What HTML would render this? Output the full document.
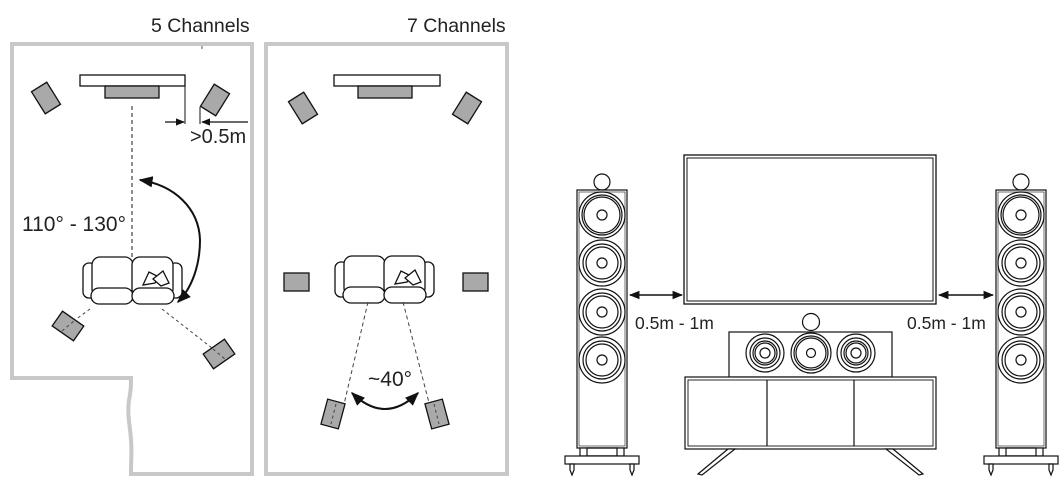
<!DOCTYPE html>
<html><head><meta charset="utf-8"><style>
html,body{margin:0;padding:0;background:#fff;}
svg{display:block;}
text{font-family:"Liberation Sans",sans-serif;fill:#222;}
</style></head><body>
<svg width="1062" height="492" viewBox="0 0 1062 492" xmlns="http://www.w3.org/2000/svg">
<defs>
  <marker id="ah" viewBox="0 0 10 10" refX="9" refY="5" markerWidth="7" markerHeight="7" orient="auto-start-reverse">
    <path d="M0,1 L10,5 L0,9 Z" fill="#111"/>
  </marker>
  <g id="sofa" fill="#fff" stroke="#111" stroke-width="1.3">
    <rect x="0" y="6" width="13" height="35" rx="6"/>
    <rect x="86" y="6" width="13" height="35" rx="6"/>
    <rect x="9" y="0" width="41" height="40" rx="8"/>
    <rect x="49" y="0" width="41" height="40" rx="8"/>
    <rect x="8" y="31" width="42" height="16" rx="8"/>
    <rect x="49" y="31" width="42" height="16" rx="8"/>
    <path d="M60,28 L66,15 L76,20 L72,26 Z"/>
    <path d="M70,22 L80,14 L86,26 L78,29 Z"/>
  </g>
  <g id="spk" fill="#a9a9a9" stroke="#111" stroke-width="1.3">
    <rect x="-9" y="-13" width="18" height="26"/>
  </g>
  <g id="tower" fill="#fff" stroke="#111" stroke-width="1.2">
    <circle cx="25" cy="-8" r="8"/>
    <rect x="0" y="0" width="50" height="258"/>
    <rect x="2" y="2" width="46" height="254" fill="none" stroke-width="0.6"/>
    <g fill="none">
      <circle cx="25" cy="25" r="23"/><circle cx="25" cy="25" r="20"/><circle cx="25" cy="25" r="18"/><circle cx="25" cy="25" r="5"/>
      <circle cx="25" cy="73" r="23"/><circle cx="25" cy="73" r="19"/><circle cx="25" cy="73" r="16"/><circle cx="25" cy="73" r="5"/>
      <circle cx="25" cy="122" r="23"/><circle cx="25" cy="122" r="19"/><circle cx="25" cy="122" r="16"/><circle cx="25" cy="122" r="5"/>
      <circle cx="25" cy="170" r="23"/><circle cx="25" cy="170" r="19"/><circle cx="25" cy="170" r="16"/><circle cx="25" cy="170" r="5"/>
    </g>
    <rect x="3" y="258" width="44" height="8"/>
    <rect x="10" y="258" width="30" height="8" fill="none"/>
    <rect x="-12" y="266" width="74" height="8"/>
    <path d="M-7,274 L-7,280 L-5,285 L-3,280 L-3,274 Z"/>
    <path d="M53,274 L53,280 L55,285 L57,280 L57,274 Z"/>
  </g>
</defs>

<!-- Rooms -->
<path d="M12,44 L252,44 L252,474 L131,474 C131,460 132,450 131,440 C130,425 127,415 129,400 C131,390 131,385 131,378 L12,378 Z" fill="none" stroke="#c8c8c8" stroke-width="4"/>
<line x1="202" y1="46" x2="202" y2="49" stroke="#555" stroke-width="1"/>
<rect x="266" y="44" width="241" height="430" fill="none" stroke="#c8c8c8" stroke-width="4"/>
<text x="151" y="32" font-size="19.5">5 Channels</text>
<text x="407" y="32" font-size="19.5">7 Channels</text>

<!-- 5ch -->
<rect x="80" y="75" width="105" height="11" fill="#fff" stroke="#111" stroke-width="1.3"/>
<rect x="105" y="86" width="54" height="12" fill="#a9a9a9" stroke="#111" stroke-width="1.3"/>
<use href="#spk" transform="translate(46,98) rotate(-32)"/>
<use href="#spk" transform="translate(215,100) rotate(32)"/>
<line x1="185" y1="86" x2="185" y2="124" stroke="#111" stroke-width="1"/>
<line x1="200" y1="107" x2="200" y2="124" stroke="#111" stroke-width="1"/>
<line x1="165" y1="122" x2="184" y2="122" stroke="#111" stroke-width="1.3" marker-end="url(#ah)"/>
<line x1="248" y1="122" x2="202" y2="122" stroke="#111" stroke-width="1.3" marker-end="url(#ah)"/>
<text x="190" y="143" font-size="20">&gt;0.5m</text>
<line x1="132" y1="106" x2="132" y2="258" stroke="#444" stroke-width="1.2" stroke-dasharray="4,3"/>
<path d="M200,240 C199,208 174,185 140,180" fill="none" stroke="#111" stroke-width="2" marker-end="url(#ah)"/>
<path d="M200,240 C200,265 192,288 178,302" fill="none" stroke="#111" stroke-width="2" marker-end="url(#ah)"/>
<text x="22" y="231" font-size="21">110° - 130°</text>
<use href="#sofa" transform="translate(83,257)"/>
<line x1="90" y1="309" x2="75" y2="320" stroke="#444" stroke-width="1" stroke-dasharray="3,3"/>
<line x1="162" y1="309" x2="212" y2="348" stroke="#444" stroke-width="1" stroke-dasharray="3,3"/>
<use href="#spk" transform="translate(68,326) rotate(-55)"/>
<use href="#spk" transform="translate(219,354) rotate(55)"/>
<line x1="62" y1="331" x2="74" y2="321" stroke="#444" stroke-width="1" stroke-dasharray="3,3"/>
<line x1="213" y1="349" x2="225" y2="359" stroke="#444" stroke-width="1" stroke-dasharray="3,3"/>

<!-- 7ch -->
<rect x="334" y="75" width="106" height="11" fill="#fff" stroke="#111" stroke-width="1.3"/>
<rect x="358" y="86" width="54" height="12" fill="#a9a9a9" stroke="#111" stroke-width="1.3"/>
<use href="#spk" transform="translate(303,108) rotate(-32)"/>
<use href="#spk" transform="translate(467,108) rotate(32)"/>
<rect x="284" y="273" width="25" height="18" fill="#a9a9a9" stroke="#111" stroke-width="1.3"/>
<rect x="463" y="273" width="25" height="18" fill="#a9a9a9" stroke="#111" stroke-width="1.3"/>
<use href="#sofa" transform="translate(335,256)"/>
<line x1="368" y1="302" x2="338" y2="430" stroke="#444" stroke-width="1" stroke-dasharray="4,3"/>
<line x1="403" y1="302" x2="436" y2="430" stroke="#444" stroke-width="1" stroke-dasharray="4,3"/>
<use href="#spk" transform="translate(333,414) rotate(15)"/>
<use href="#spk" transform="translate(437,414) rotate(-15)"/>
<line x1="336" y1="404" x2="331" y2="424" stroke="#444" stroke-width="1" stroke-dasharray="3,3"/>
<line x1="434" y1="404" x2="439" y2="424" stroke="#444" stroke-width="1" stroke-dasharray="3,3"/>
<path d="M352,393 Q385,425 418,393" fill="none" stroke="#111" stroke-width="2" marker-start="url(#ah)" marker-end="url(#ah)"/>
<text x="368" y="386" font-size="21">~40°</text>

<!-- Right illustration -->
<rect x="684" y="155" width="252" height="149" fill="#fff" stroke="#111" stroke-width="1.3"/>
<rect x="687" y="158" width="246" height="143" fill="none" stroke="#111" stroke-width="1"/>
<use href="#tower" transform="translate(577,190)"/>
<use href="#tower" transform="translate(996,190)"/>
<line x1="630" y1="295" x2="682" y2="295" stroke="#111" stroke-width="1.5" marker-start="url(#ah)" marker-end="url(#ah)"/>
<line x1="939" y1="295" x2="993" y2="295" stroke="#111" stroke-width="1.5" marker-start="url(#ah)" marker-end="url(#ah)"/>
<text x="635" y="329" font-size="17.5">0.5m - 1m</text>
<text x="907" y="329" font-size="17.5">0.5m - 1m</text>

<g fill="#fff" stroke="#111" stroke-width="1.2">
  <circle cx="811" cy="322" r="8.5"/>
  <rect x="729" y="332" width="163" height="45"/>
  <g fill="none">
    <circle cx="765" cy="353" r="19"/><circle cx="765" cy="353" r="15"/><circle cx="765" cy="353" r="12"/><circle cx="765" cy="353" r="10"/><circle cx="765" cy="353" r="5"/>
    <circle cx="811" cy="353" r="20"/><circle cx="811" cy="353" r="17"/><circle cx="811" cy="353" r="15"/><circle cx="811" cy="353" r="4.5"/>
    <circle cx="856" cy="353" r="19"/><circle cx="856" cy="353" r="15"/><circle cx="856" cy="353" r="12"/><circle cx="856" cy="353" r="10"/><circle cx="856" cy="353" r="5"/>
  </g>
  <rect x="685" y="377" width="251" height="72"/>
  <rect x="688" y="380" width="245" height="66" fill="none" stroke-width="0.9"/>
  <line x1="767" y1="380" x2="767" y2="446"/>
  <line x1="854" y1="380" x2="854" y2="446"/>
  <path d="M728,449 L698,474 L702,475 L735,449 Z"/>
  <path d="M893,449 L923,474 L919,475 L886,449 Z"/>
</g>
</svg>
</body></html>
